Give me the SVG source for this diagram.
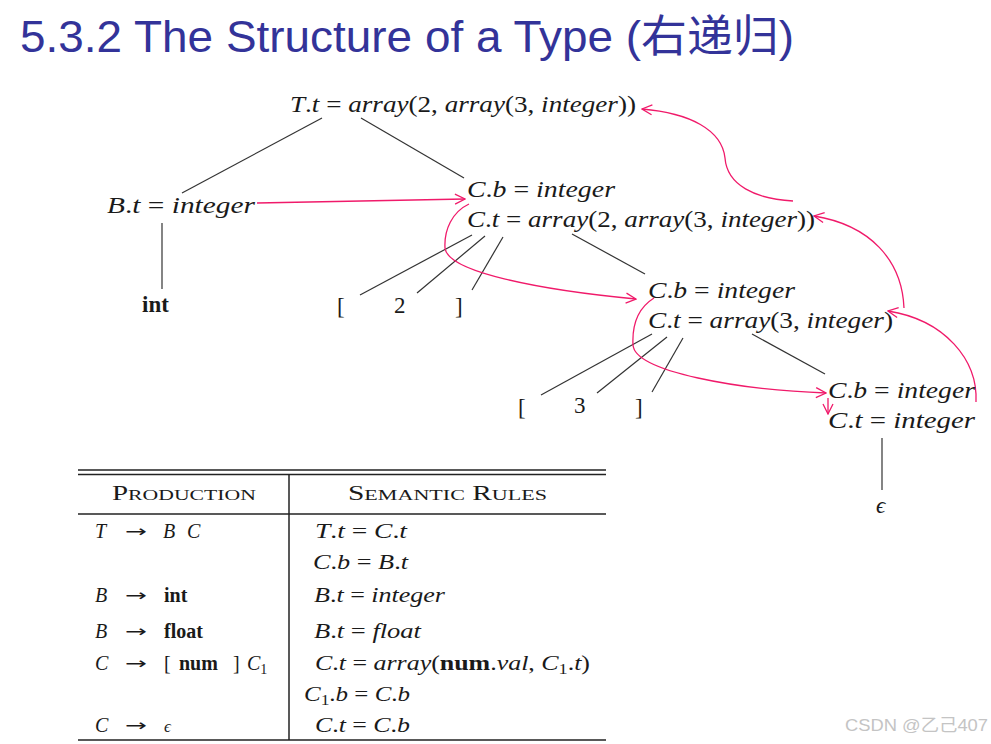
<svg xmlns="http://www.w3.org/2000/svg" width="991" height="744" viewBox="0 0 991 744">
<defs>
<style>
.title{font-family:"Liberation Sans","Noto Sans CJK SC",sans-serif;font-size:44px;fill:#333399}
.m{font-family:"Liberation Serif","DejaVu Serif",serif;font-size:23px;fill:#1a1a1a}
.t{font-family:"Liberation Serif","DejaVu Serif",serif;font-size:20px;fill:#1a1a1a}
.ar{font-family:"DejaVu Sans",sans-serif;font-size:16px;fill:#1a1a1a}
.i{font-style:italic}
.b{font-weight:bold}
.tree{stroke:#333;stroke-width:1.2;fill:none}
.red{stroke:#f01a6a;stroke-width:1.3;fill:none;marker-end:url(#ah)}
.rule{stroke:#222;stroke-width:1.5}
.wm{font-family:"Liberation Sans","Noto Sans CJK SC",sans-serif;font-size:17px;fill:#c4c4c4}
</style>
<marker id="ah" viewBox="0 0 12 12" refX="11" refY="6" markerWidth="12" markerHeight="12" markerUnits="userSpaceOnUse" orient="auto">
<path d="M1,1 L11,6 L1,11" fill="none" stroke="#f01a6a" stroke-width="1.3"/>
</marker>
</defs>
<rect width="991" height="744" fill="#fff"/>
<text class="title" x="20" y="52" textLength="774" lengthAdjust="spacingAndGlyphs">5.3.2 The Structure of a Type (右递归)</text>

<g id="connectors">
<line class="tree" x1="322" y1="118" x2="182" y2="193"/>
<line class="tree" x1="361" y1="118" x2="464" y2="178"/>
<line class="tree" x1="162" y1="223" x2="162" y2="289"/>
<line class="tree" x1="472" y1="235" x2="360" y2="295"/>
<line class="tree" x1="485" y1="236" x2="417" y2="293"/>
<line class="tree" x1="503" y1="237" x2="472" y2="290"/>
<line class="tree" x1="572" y1="234" x2="645" y2="274"/>
<line class="tree" x1="652" y1="334" x2="541" y2="395"/>
<line class="tree" x1="667" y1="337" x2="597" y2="393"/>
<line class="tree" x1="683" y1="338" x2="652" y2="392"/>
<line class="tree" x1="752" y1="334" x2="825" y2="374"/>
<line class="tree" x1="882" y1="438" x2="882" y2="490"/>
<path class="red" d="M257,203 L465,199"/>
<path class="red" d="M469,204 C452,212 444,230 445,248 C447,272 540,290 636,299"/>
<path class="red" d="M654,298 C638,308 632,325 633,345 C635,372 740,390 826,393"/>
<path class="red" d="M828,398 L828,414"/>
<path class="red" d="M976,402 C978,360 945,320 888,311"/>
<path class="red" d="M904,308 C902,260 870,225 814,216"/>
<path class="red" d="M793,201 C755,199 727,185 725,158 C722,130 690,113 642,109"/>
</g>

<g id="node-T">
<text class="m" x="290" y="112" textLength="346" lengthAdjust="spacingAndGlyphs"><tspan class="i">T</tspan>.<tspan class="i">t</tspan> = <tspan class="i">array</tspan>(2, <tspan class="i">array</tspan>(3, <tspan class="i">integer</tspan>))</text>
</g>
<g id="node-B">
<text class="m" x="107" y="213" textLength="148" lengthAdjust="spacingAndGlyphs"><tspan class="i">B</tspan>.<tspan class="i">t</tspan> = <tspan class="i">integer</tspan></text>
</g>
<g id="node-int">
<text class="m b" x="142" y="312">int</text>
</g>
<g id="node-C1">
<text class="m" x="467" y="197" textLength="148" lengthAdjust="spacingAndGlyphs"><tspan class="i">C</tspan>.<tspan class="i">b</tspan> = <tspan class="i">integer</tspan></text>
<text class="m" x="467" y="227" textLength="348" lengthAdjust="spacingAndGlyphs"><tspan class="i">C</tspan>.<tspan class="i">t</tspan> = <tspan class="i">array</tspan>(2, <tspan class="i">array</tspan>(3, <tspan class="i">integer</tspan>))</text>
</g>
<g id="node-lb1"><text class="m" x="337" y="314">[</text></g>
<g id="node-2"><text class="m" x="394" y="313">2</text></g>
<g id="node-rb1"><text class="m" x="455" y="314">]</text></g>
<g id="node-C2">
<text class="m" x="648" y="298" textLength="147" lengthAdjust="spacingAndGlyphs"><tspan class="i">C</tspan>.<tspan class="i">b</tspan> = <tspan class="i">integer</tspan></text>
<text class="m" x="648" y="328" textLength="245" lengthAdjust="spacingAndGlyphs"><tspan class="i">C</tspan>.<tspan class="i">t</tspan> = <tspan class="i">array</tspan>(3, <tspan class="i">integer</tspan>)</text>
</g>
<g id="node-lb2"><text class="m" x="518" y="415">[</text></g>
<g id="node-3"><text class="m" x="574" y="413">3</text></g>
<g id="node-rb2"><text class="m" x="635" y="415">]</text></g>
<g id="node-C3">
<text class="m" x="828" y="398" textLength="147" lengthAdjust="spacingAndGlyphs"><tspan class="i">C</tspan>.<tspan class="i">b</tspan> = <tspan class="i">integer</tspan></text>
<text class="m" x="828" y="428" textLength="147" lengthAdjust="spacingAndGlyphs"><tspan class="i">C</tspan>.<tspan class="i">t</tspan> = <tspan class="i">integer</tspan></text>
</g>
<g id="node-eps"><text class="m i" x="876" y="513" font-size="20">ϵ</text></g>

<g id="table">
<line class="rule" x1="78" y1="470" x2="606" y2="470"/>
<line class="rule" x1="78" y1="474.5" x2="606" y2="474.5"/>
<line class="rule" x1="78" y1="514" x2="606" y2="514"/>
<line class="rule" x1="78" y1="740" x2="606" y2="740"/>
<line class="rule" x1="289" y1="474" x2="289" y2="740"/>
<text class="t" x="112" y="500" textLength="144" lengthAdjust="spacingAndGlyphs">P<tspan font-size="15">RODUCTION</tspan></text>
<text class="t" x="348" y="500" textLength="199" lengthAdjust="spacingAndGlyphs">S<tspan font-size="15">EMANTIC</tspan>  R<tspan font-size="15">ULES</tspan></text>

<text class="ar" x="125" y="537" textLength="22" lengthAdjust="spacingAndGlyphs">→</text>
<text class="ar" x="125" y="601" textLength="22" lengthAdjust="spacingAndGlyphs">→</text>
<text class="ar" x="125" y="637" textLength="22" lengthAdjust="spacingAndGlyphs">→</text>
<text class="ar" x="125" y="669" textLength="22" lengthAdjust="spacingAndGlyphs">→</text>
<text class="ar" x="125" y="731" textLength="22" lengthAdjust="spacingAndGlyphs">→</text>
<text class="t"><tspan class="i" x="95" y="538">T</tspan><tspan class="i" x="163" y="538">B</tspan><tspan class="i" x="187" y="538">C</tspan></text>
<text class="t"><tspan class="i" x="95" y="602">B</tspan><tspan class="b" x="164" y="602">int</tspan></text>
<text class="t"><tspan class="i" x="95" y="638">B</tspan><tspan class="b" x="164" y="638">float</tspan></text>
<text class="t"><tspan class="i" x="95" y="670">C</tspan><tspan x="164" y="670">[</tspan><tspan class="b" x="179" y="670">num</tspan><tspan x="233" y="670">]</tspan><tspan class="i" x="247" y="670">C</tspan><tspan font-size="14" dy="4">1</tspan></text>
<text class="t"><tspan class="i" x="95" y="732">C</tspan><tspan class="i" x="164" y="732" font-size="17">ϵ</tspan></text>

<text class="t" x="315" y="538" textLength="92" lengthAdjust="spacingAndGlyphs"><tspan class="i">T</tspan>.<tspan class="i">t</tspan> = <tspan class="i">C</tspan>.<tspan class="i">t</tspan></text>
<text class="t" x="313" y="569" textLength="95" lengthAdjust="spacingAndGlyphs"><tspan class="i">C</tspan>.<tspan class="i">b</tspan> = <tspan class="i">B</tspan>.<tspan class="i">t</tspan></text>
<text class="t" x="314" y="602" textLength="131" lengthAdjust="spacingAndGlyphs"><tspan class="i">B</tspan>.<tspan class="i">t</tspan> = <tspan class="i">integer</tspan></text>
<text class="t" x="314" y="638" textLength="107" lengthAdjust="spacingAndGlyphs"><tspan class="i">B</tspan>.<tspan class="i">t</tspan> = <tspan class="i">float</tspan></text>
<text class="t" x="315" y="670" textLength="275" lengthAdjust="spacingAndGlyphs"><tspan class="i">C</tspan>.<tspan class="i">t</tspan> = <tspan class="i">array</tspan>(<tspan class="b">num</tspan>.<tspan class="i">val</tspan>, <tspan class="i">C</tspan><tspan font-size="14" dy="4">1</tspan><tspan dy="-4">.</tspan><tspan class="i">t</tspan>)</text>
<text class="t" x="304" y="701" textLength="106" lengthAdjust="spacingAndGlyphs"><tspan class="i">C</tspan><tspan font-size="14" dy="4">1</tspan><tspan dy="-4">.</tspan><tspan class="i">b</tspan> = <tspan class="i">C</tspan>.<tspan class="i">b</tspan></text>
<text class="t" x="315" y="732" textLength="95" lengthAdjust="spacingAndGlyphs"><tspan class="i">C</tspan>.<tspan class="i">t</tspan> = <tspan class="i">C</tspan>.<tspan class="i">b</tspan></text>
</g>

<text class="wm" x="845" y="731" textLength="143" lengthAdjust="spacingAndGlyphs">CSDN @乙己407</text>
</svg>
